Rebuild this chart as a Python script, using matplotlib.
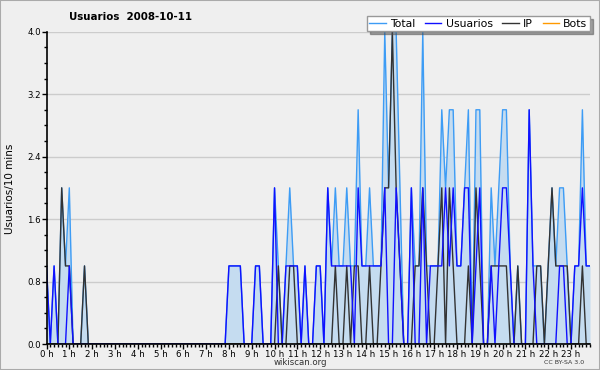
import matplotlib
matplotlib.use("Agg")
import matplotlib.pyplot as plt
from matplotlib.ticker import MultipleLocator, FixedLocator
from matplotlib.patches import Rectangle

title = "Usuarios  2008-10-11"
ylabel = "Usuarios/10 mins"
series_names = ["Total", "Usuarios", "IP", "Bots"]
hour_labels = [f"{h} h" for h in range(24)]
ytick_values = [0.0, 0.8, 1.6, 2.4, 3.2, 4.0]

# values per 10-minute slot, 6 per hour
total = [
    1, 0, 1, 0, 2, 1,   2, 0, 0, 0, 1, 0,
    0, 0, 0, 0, 0, 0,   0, 0, 0, 0, 0, 0,
    0, 0, 0, 0, 0, 0,   0, 0, 0, 0, 0, 0,
    0, 0, 0, 0, 0, 0,   0, 0, 0, 0, 0, 0,
    1, 1, 1, 1, 0, 0,   0, 1, 1, 0, 0, 0,
    2, 1, 0, 1, 2, 1,   1, 0, 1, 0, 0, 1,
    1, 0, 2, 1, 2, 1,   1, 2, 1, 1, 3, 1,
    1, 2, 1, 1, 1, 4,   2, 4, 4, 2, 0, 0,
    2, 1, 1, 4, 1, 1,   1, 1, 3, 2, 3, 3,
    1, 1, 2, 3, 0, 3,   3, 0, 0, 2, 1, 2,
    3, 3, 1, 0, 1, 0,   0, 3, 1, 1, 1, 0,
    1, 2, 1, 2, 2, 1,   0, 1, 1, 3, 1, 1,
]
usuarios = [
    1, 0, 1, 0, 0, 0,   1, 0, 0, 0, 0, 0,
    0, 0, 0, 0, 0, 0,   0, 0, 0, 0, 0, 0,
    0, 0, 0, 0, 0, 0,   0, 0, 0, 0, 0, 0,
    0, 0, 0, 0, 0, 0,   0, 0, 0, 0, 0, 0,
    1, 1, 1, 1, 0, 0,   0, 1, 1, 0, 0, 0,
    2, 0, 0, 1, 1, 1,   1, 0, 1, 0, 0, 1,
    1, 0, 2, 1, 1, 1,   1, 1, 1, 0, 2, 1,
    1, 1, 1, 1, 1, 2,   0, 0, 2, 1, 0, 0,
    2, 0, 0, 2, 0, 1,   1, 1, 1, 2, 1, 2,
    1, 1, 2, 2, 0, 1,   2, 0, 0, 1, 0, 1,
    2, 2, 1, 0, 0, 0,   0, 3, 1, 0, 0, 0,
    0, 0, 0, 1, 1, 0,   0, 1, 1, 2, 1, 1,
]
ip = [
    0, 0, 0, 0, 2, 1,   1, 0, 0, 0, 1, 0,
    0, 0, 0, 0, 0, 0,   0, 0, 0, 0, 0, 0,
    0, 0, 0, 0, 0, 0,   0, 0, 0, 0, 0, 0,
    0, 0, 0, 0, 0, 0,   0, 0, 0, 0, 0, 0,
    0, 0, 0, 0, 0, 0,   0, 0, 0, 0, 0, 0,
    0, 1, 0, 0, 1, 1,   0, 0, 0, 0, 0, 0,
    0, 0, 0, 0, 1, 0,   0, 1, 0, 1, 1, 0,
    0, 1, 0, 0, 1, 2,   2, 4, 2, 1, 0, 0,
    0, 1, 1, 2, 1, 0,   0, 1, 2, 0, 2, 1,
    0, 0, 0, 1, 0, 2,   1, 0, 0, 1, 1, 1,
    1, 1, 0, 0, 1, 0,   0, 0, 0, 1, 1, 0,
    1, 2, 1, 1, 1, 1,   0, 0, 0, 1, 0, 0,
]
bots = [0] * 144

slots = [i / 6 for i in range(len(total))]

BG = "#efefef"
fig = plt.figure(figsize=(6.0, 3.7), dpi=100, facecolor=BG)
ax = fig.add_axes([46.5 / 600, 1 - 344 / 370, (590 - 46.5) / 600, (344 - 31.7) / 370])
ax.set_facecolor(BG)

ax.fill_between(slots, total, 0, color="#c5dcf0", lw=0, zorder=1)
ax.plot(slots, bots, color="#ff9900", lw=1.0, zorder=2, label=series_names[3])
ax.plot(slots, total, color="#3d9cf5", lw=1.0, zorder=3, label=series_names[0])
ax.plot(slots, ip, color="#333333", lw=1.0, zorder=4, label=series_names[2])
ax.plot(slots, usuarios, color="#1010ff", lw=1.0, zorder=5, label=series_names[1])

ax.set_xlim(0, slots[-1])
ax.set_ylim(0, 4.0)

ax.yaxis.set_major_locator(FixedLocator(ytick_values))
ax.set_yticklabels([f"{v:.1f}" for v in ytick_values])
ax.yaxis.set_minor_locator(MultipleLocator(0.2))
ax.xaxis.set_major_locator(FixedLocator(list(range(24))))
ax.set_xticklabels(hour_labels)
ax.xaxis.set_minor_locator(MultipleLocator(1 / 6))

ax.tick_params(axis="both", which="major", labelsize=6.2, length=3.5, width=1, color="black", pad=0.5)
ax.tick_params(axis="both", which="minor", length=2, width=1, color="black")
ax.grid(axis="y", which="major", color="#cccccc", lw=1, zorder=0)
ax.set_axisbelow(True)

for s in ["top", "right"]:
    ax.spines[s].set_visible(False)
for s in ["left", "bottom"]:
    ax.spines[s].set_color("black")
    ax.spines[s].set_linewidth(1.2)
    ax.spines[s].set_zorder(6)

fig.text(0.218, 0.955, title, fontsize=7.4, fontweight="bold", ha="center", va="center")
fig.text(0.016, 0.49, ylabel, fontsize=7.5, rotation=90, ha="center", va="center")
fig.text(0.5, 0.019, "wikiscan.org", fontsize=6.2, ha="center", va="center", color="#333333")
fig.text(0.94, 0.019, "CC BY-SA 3.0", fontsize=4.5, ha="center", va="center", color="#333333")

handles, labels = ax.get_legend_handles_labels()
order = [labels.index(n) for n in series_names]
leg = fig.legend([handles[k] for k in order], [labels[k] for k in order],
                 loc="upper right", bbox_to_anchor=(590 / 600, 1 - 16 / 370), ncol=4,
                 fontsize=7.8, frameon=True, fancybox=False, shadow=True,
                 handlelength=1.5, handletextpad=0.4, columnspacing=0.9,
                 borderpad=0.25, borderaxespad=0)
leg.get_frame().set_edgecolor("#999999")
leg.get_frame().set_facecolor("white")
leg.get_frame().set_linewidth(1.0)

fig.patches.append(Rectangle((0, 0), 1, 1, transform=fig.transFigure, fill=False,
                             edgecolor="#aaaaaa", lw=1.5))

fig.savefig("out.png", dpi=100, facecolor=BG)
